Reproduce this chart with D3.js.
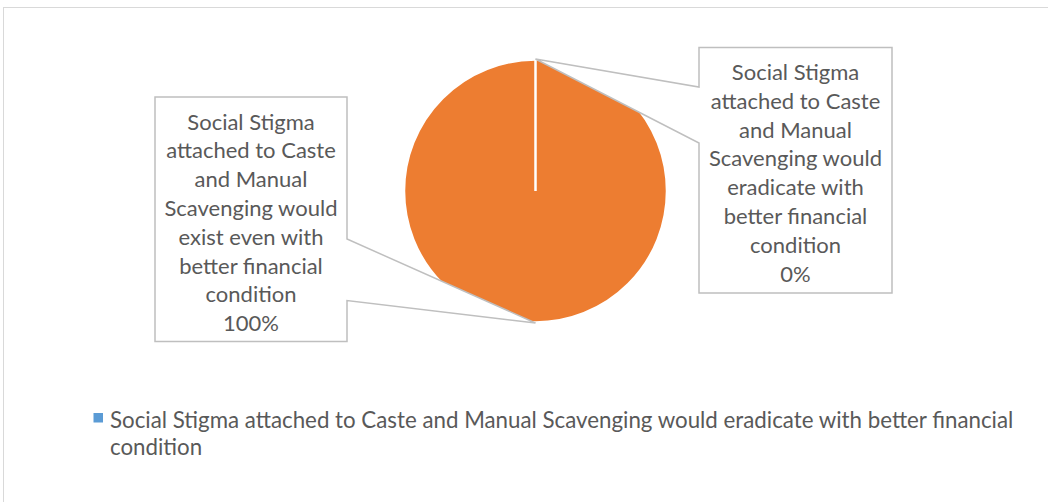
<!DOCTYPE html>
<html><head><meta charset="utf-8">
<script src="https://cdn.jsdelivr.net/npm/d3@7/dist/d3.min.js"></script>
<style>body{margin:0;background:#fff}svg{display:block}</style>
</head><body>
<svg id="c" width="1048" height="502"></svg>
<script>
const categories = [
  "Social Stigma attached to Caste and Manual Scavenging would eradicate with better financial condition",
  "Social Stigma attached to Caste and Manual Scavenging would exist even with better financial condition"
];
const values = [0, 100];
const percentLabels = ["0%", "100%"];
const labelLines = [
  ["Social Stigma","attached to Caste","and Manual","Scavenging would","eradicate with","better financial","condition"],
  ["Social Stigma","attached to Caste","and Manual","Scavenging would","exist even with","better financial","condition"]
];
const colors = ["#5B9BD5", "#ED7D31"];
const legendLines = [["Social Stigma attached to Caste and Manual Scavenging would eradicate with better financial","condition"]];

const svg = d3.select("#c");
const font = "Lato, 'Open Sans', sans-serif";
const textColor = "#595959";
const fs = 22;

// chart border
svg.append("rect").attr("x",3.5).attr("y",7.5).attr("width",1100).attr("height",600)
  .attr("fill","none").attr("stroke","#d9d9d9").attr("stroke-width",1);

const cx = 535.5, cy = 191, r = 131.5;
const pie = d3.pie().sort(null).value(d=>d);
const arcs = pie(values);
const arc = d3.arc().innerRadius(0).outerRadius(r);
const g = svg.append("g").attr("transform",`translate(${cx},${cy})`);
const order = [1,0];
order.forEach(i=>{
  g.append("path").attr("d",arc(arcs[i])).attr("fill",colors[i])
    .attr("stroke","#fff").attr("stroke-width",2.5).attr("stroke-linejoin","miter");
});

// callouts
const boxes = [
  {x0:699, y0:47.5, x1:892, y1:293, side:"left", wy0:87, wy1:143},
  {x0:155, y0:97, x1:347, y1:341.5, side:"right", wy0:239, wy1:300.5}
];
arcs.forEach((a,i)=>{
  const mid = (a.startAngle + a.endAngle)/2;
  const ax = cx + Math.sin(mid)*(r+0.5), ay = cy - Math.cos(mid)*(r+0.5);
  const b = boxes[i];
  let pts;
  if (b.side==="left") {
    pts = [[b.x0,b.y0],[b.x1,b.y0],[b.x1,b.y1],[b.x0,b.y1],[b.x0,b.wy1],[ax,ay],[b.x0,b.wy0]];
  } else {
    pts = [[b.x0,b.y0],[b.x1,b.y0],[b.x1,b.wy0],[ax,ay],[b.x1,b.wy1],[b.x1,b.y1],[b.x0,b.y1]];
  }
  svg.append("path").attr("d","M"+pts.map(p=>p.join(",")).join("L")+"Z")
    .attr("fill","#fff").attr("stroke","#bfbfbf").attr("stroke-width",1.5).attr("stroke-linejoin","miter");
  const lines = labelLines[i].concat([percentLabels[i]]);
  const t = svg.append("text").attr("x",(b.x0+b.x1)/2).attr("text-anchor","middle")
    .attr("font-family",font).attr("font-size",fs).attr("fill",textColor);
  const firstY = b.y0 + 32.5;
  lines.forEach((l,k)=>{
    t.append("tspan").attr("x",(b.x0+b.x1)/2).attr("y",firstY + k*28.8).text(l);
  });
});

// legend
const lg = svg.append("g");
lg.append("rect").attr("x",93.5).attr("y",413).attr("width",9.5).attr("height",9.5).attr("fill",colors[0]);
const lt = lg.append("text").attr("font-family",font).attr("font-size",22.3).attr("fill",textColor);
legendLines[0].forEach((l,k)=>{
  lt.append("tspan").attr("x",110).attr("y",427.5 + k*27).text(l);
});
</script>
</body></html>
